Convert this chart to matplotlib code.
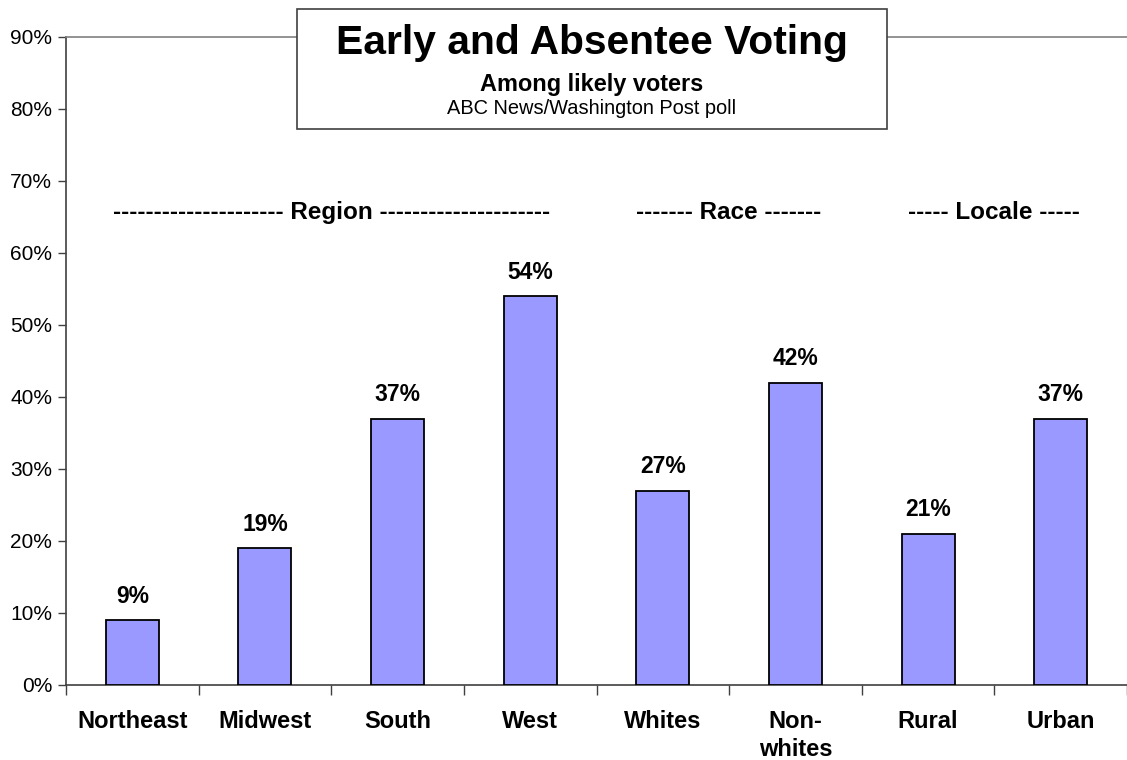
"""Early and absentee voting among likely voters, by region, race and locale."""

import matplotlib.pyplot as plt
from matplotlib.patches import Rectangle

plt.rcParams["font.family"] = ["Liberation Sans", "DejaVu Sans"]

categories = ["Northeast", "Midwest", "South", "West", "Whites", "Non-\nwhites", "Rural", "Urban"]
values = [9, 19, 37, 54, 27, 42, 21, 37]
y_ticks = [0, 10, 20, 30, 40, 50, 60, 70, 80, 90]
groups = [
    ("--------------------- Region ---------------------", 1.5),
    ("------- Race -------", 4.5),
    ("----- Locale -----", 6.5),
]

W, H = 1127, 760
fig = plt.figure(figsize=(W / 100, H / 100), dpi=100)
ax = fig.add_axes([66 / W, 75 / H, (W - 66) / W, (685 - 37) / H])

x = list(range(len(categories)))
ax.bar(x, values, width=0.4, color="#9999FF", edgecolor="black", linewidth=1.3, zorder=3)

for xi, v in zip(x, values):
    ax.annotate(f"{v}%", (xi, v), xytext=(0, 9), textcoords="offset points",
                ha="center", va="bottom", fontsize=16.5, fontweight="bold")

for label, xc in groups:
    ax.text(xc, 65.6, label, ha="center", va="center", fontsize=17.5, fontweight="bold")

ax.set_ylim(0, 90)
ax.set_xlim(-0.5, -0.5 + (W - 66) / 133.3)
ax.set_yticks(y_ticks)
ax.set_yticklabels([f"{t}%" for t in y_ticks], fontsize=15)
ax.tick_params(axis="y", length=6, width=1, color="#404040", pad=4)

ax.set_xticks(x)
ax.set_xticklabels(categories, fontsize=17, fontweight="bold", linespacing=1.28, va="top")
ax.tick_params(axis="x", which="major", length=0, pad=18)
ax.set_xticks([i - 0.5 for i in range(len(categories) + 1)], minor=True)
ax.tick_params(axis="x", which="minor", length=7, width=1, color="#404040", direction="out")

ax.spines["right"].set_visible(False)
ax.spines["top"].set_color("#808080")
ax.spines["top"].set_linewidth(1.2)
for s in ("left", "bottom"):
    ax.spines[s].set_color("#404040")
    ax.spines[s].set_linewidth(1.2)

# title box sitting over the top line
box = Rectangle((297 / W, 1 - 129 / H), (887 - 297) / W, 120 / H, transform=fig.transFigure,
                facecolor="white", edgecolor="#404040", linewidth=1.2, zorder=5)
fig.patches.append(box)
cx = 592 / W
fig.text(cx, 1 - 43 / H, "Early and Absentee Voting", ha="center", va="center",
         fontsize=29.3, fontweight="bold", zorder=6)
fig.text(cx, 1 - 85 / H, "Among likely voters", ha="center", va="center",
         fontsize=16.9, fontweight="bold", zorder=6)
fig.text(cx, 1 - 108 / H, "ABC News/Washington Post poll", ha="center", va="center",
         fontsize=14.4, zorder=6)

fig.savefig("out.png", dpi=100)
